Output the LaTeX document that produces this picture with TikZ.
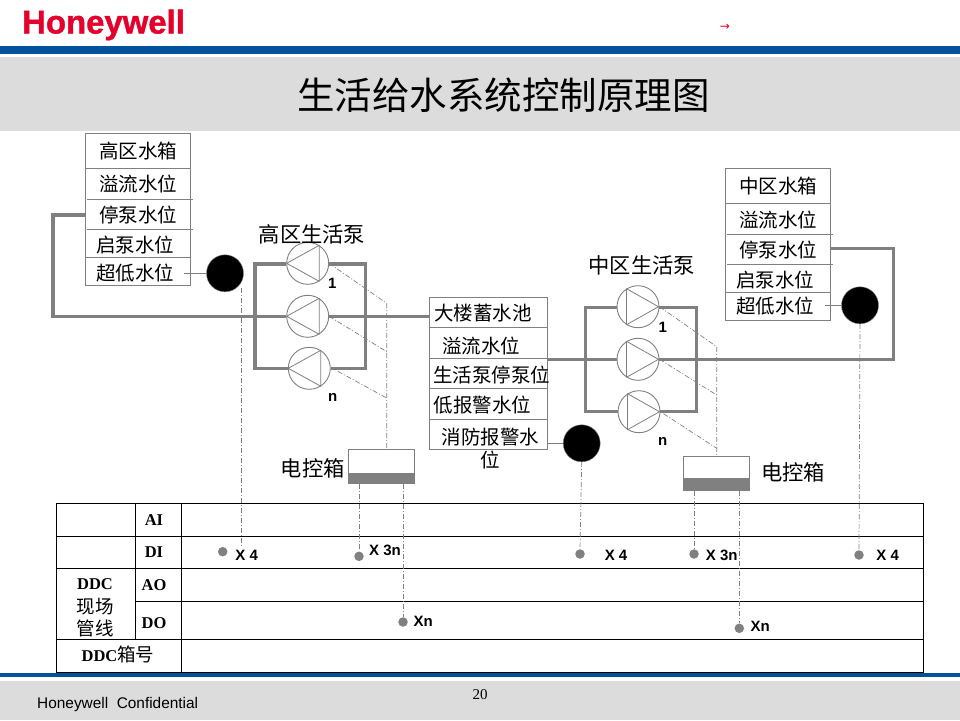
\documentclass[tikz,border=0pt]{standalone}
\usepackage{fontspec}
\setmainfont{Liberation Sans}
\newfontfamily\cjk{Noto Sans CJK SC}
\newfontfamily\serifb[BoldFont={Liberation Serif Bold}]{Liberation Serif}
\newfontfamily\logofont[FakeBold=1.2]{Liberation Sans Bold}
\usetikzlibrary{calc}
\definecolor{hblue}{HTML}{00529B}
\definecolor{hgray}{HTML}{DCDCDC}
\definecolor{hred}{HTML}{E4002B}
\definecolor{linegray}{HTML}{808080}
\newcommand{\fsz}[1]{\fontsize{#1}{#1}\selectfont}
\tikzset{
  lbl/.style={inner sep=0pt,font=\cjk\fsz{19.5}},
  bigl/.style={inner sep=0pt,font=\cjk\fsz{21.3}},
  cell/.style={inner sep=0pt,font=\serifb\bfseries\fsz{16.5}},
  cellc/.style={inner sep=0pt,font=\cjk\fsz{18.5}},
  xlbl/.style={inner sep=0pt,font=\bfseries\fsz{15}},
  tank/.style={draw=linegray,line width=0.9pt,inner sep=0pt,minimum width=#1},
  thin gray/.style={draw=linegray,line width=0.8pt},
  pipe/.style={draw=linegray,line width=3.2pt,line join=miter},
  pump/.style={circle,draw=linegray,line width=0.9pt,fill=white,minimum size=42pt,inner sep=0pt},
  blob/.style={circle,fill=black,draw=linegray,line width=0.4pt,minimum size=37pt,inner sep=0pt},
  pt/.style={circle,fill=linegray,minimum size=9.5pt,inner sep=0pt},
  sig/.style={draw=linegray,line width=0.7pt,dash pattern=on 5pt off 2pt on 1pt off 2pt},
  ebox/.style={draw=linegray,line width=1pt,minimum width=66pt,minimum height=34pt,inner sep=0pt},
  grid/.style={draw=black,line width=1pt},
}
\begin{document}
\begin{tikzpicture}[x=1pt,y=-1pt]
\useasboundingbox (0,0) rectangle (960,720);
% page furniture
\fill[white] (0,0) rectangle (960,720);
\fill[hblue] (0,46) rectangle (960,54);
\fill[hgray] (0,56.7) rectangle (960,130.7);
\fill[hblue] (0,673) rectangle (960,677);
\fill[hgray] (0,681) rectangle (960,720);
\node[inner sep=0pt,anchor=base west,text=hred,font=\logofont\fsz{32.9}] (logo) at (22,33.5) {Honeywell};
\node[inner sep=0pt,text=hred,font={\fontspec{DejaVu Sans}\fsz{12}}] (arrowmark) at (725,27) {→};
\node[inner sep=0pt,font=\cjk\fsz{37.5}] (title) at (503.5,95) {生活给水系统控制原理图};
\node[inner sep=0pt,anchor=base west,font=\fsz{15.4}] (conf) at (37,708) {Honeywell\ \ Confidential};
\node[inner sep=0pt,font={\serifb\fsz{15}}] (pageno) at (480,695) {20};

% tanks
\node[tank=105pt,minimum height=152pt] (tankH) at (137.8,209.4) {};
\foreach \y in {168.3,257.3} \draw[thin gray] (85.3,\y) -- (190.3,\y);
\foreach \y in {199.3,229.3} \draw[thin gray] (87,\y) -- (193,\y);
\node[lbl] (h0) at (138,150.7) {高区水箱};
\node[lbl] (h1) at (138,184) {溢流水位};
\node[lbl] (h2) at (138,215) {停泵水位};
\node[lbl] (h3) at (135,245) {启泵水位};
\node[lbl] (h4) at (135,272.7) {超低水位};

\node[tank=105pt,minimum height=152pt] (tankM) at (777.8,244.3) {};
\foreach \y in {203.3,292.3} \draw[thin gray] (725.3,\y) -- (830.3,\y);
\foreach \y in {234.3,264.3} \draw[thin gray] (727,\y) -- (833,\y);
\node[lbl] (m0) at (778,185.7) {中区水箱};
\node[lbl] (m1) at (778,220) {溢流水位};
\node[lbl] (m2) at (778,250) {停泵水位};
\node[lbl] (m3) at (775,280) {启泵水位};
\node[lbl] (m4) at (775,306) {超低水位};

\node[tank=118pt,minimum height=152pt] (pool) at (488.3,373.3) {};
\foreach \y in {327.3,358.3,388.3,419.3} \draw[thin gray] (429.3,\y) -- (547.3,\y);
\node[lbl] (c0) at (483,313.3) {大楼蓄水池};
\node[lbl] (c1) at (481,345.7) {溢流水位};
\node[lbl] (c2) at (491.7,375) {生活泵停泵位};
\node[lbl] (c3) at (482.7,405) {低报警水位};
\node[lbl] (c4) at (490.7,437.3) {消防报警水};
\node[lbl] (c5) at (490,460) {位};

% pumps
\node[pump] (p1) at (307.7,263.3) {};
\node[pump] (p2) at (307.7,316.3) {};
\node[pump] (p3) at (309.3,368.3) {};
\node[pump] (q1) at (638,306.7) {};
\node[pump] (q2) at (638,359.3) {};
\node[pump] (q3) at (639,411.7) {};
\foreach \p in {p1,p2,p3}
  \draw[thin gray,line join=round] ($(\p)+(-21,0)$) -- ($(\p)+(11.5,-18)$) -- ($(\p)+(11.5,18)$) -- cycle;
\foreach \p in {q1,q2,q3}
  \draw[thin gray,line join=round] ($(\p)+(20.5,0)$) -- ($(\p)+(-11.5,-18)$) -- ($(\p)+(-11.5,18)$) -- cycle;

\node[bigl] (hpl) at (312,234) {高区生活泵};
\node[bigl] (mpl) at (641.7,265) {中区生活泵};
\node[xlbl] (n1a) at (332.3,283.3) {1};
\node[xlbl] (n1b) at (332.7,397) {n};
\node[xlbl] (n2a) at (662.7,327) {1};
\node[xlbl] (n2b) at (662.7,441) {n};

% pipes
\coordinate (lc1) at (53,215);
\coordinate (lc2) at (53,316.3);
\coordinate (hl) at (255,264);
\coordinate (hr) at (365.7,264);
\coordinate (ml) at (585.3,307.7);
\coordinate (mr) at (696.7,307.7);
\coordinate (rc1) at (893.3,248.3);
\coordinate (rc2) at (893.3,359.3);
\draw[pipe] (tankH.west |- lc1) -- (lc1) -- (lc2) -- (p2.west);
\draw[pipe] (p2.east) -- (pool.west |- p2);
\draw[pipe] (p1.west |- hl) -- (hl) -- (hl |- p3) -- (p3.west);
\draw[pipe] (p1.east |- hr) -- (hr) -- (hr |- p3) -- (p3.east);
\draw[pipe] (pool.east |- q2) -- (q2.west);
\draw[pipe] (q2.east) -- (rc2) -- (rc1) -- (tankM.east |- rc1);
\draw[pipe] (q1.west |- ml) -- (ml) -- (ml |- q3) -- (q3.west);
\draw[pipe] (q1.east |- mr) -- (mr) -- (mr |- q3) -- (q3.east);

% level sensors
\node[blob] (bH) at (225,273.3) {};
\node[blob] (bC) at (581.7,443.3) {};
\node[blob] (bM) at (860,305.3) {};
\coordinate (lh) at (184,273.3);
\coordinate (lm) at (825,305.3);
\draw[thin gray] (lh) -- (bH.west);
\draw[thin gray] (pool.east |- bC) -- (bC.west);
\draw[thin gray] (lm) -- (bM.west);

% control boxes
\node[ebox] (eb1) at (381.5,466.9) {};
\node[ebox] (eb2) at (716.5,473.4) {};
\fill[linegray] (eb1.south west) rectangle ($(eb1.south east)+(0,-11.7)$);
\fill[linegray] (eb2.south west) rectangle ($(eb2.south east)+(0,-13)$);
\node[bigl] (el1) at (312.7,468) {电控箱};
\node[bigl] (el2) at (793.3,472.3) {电控箱};

% table
\draw[grid] (56.7,503.3) rectangle (923.3,672.3);
\foreach \y in {536.3,568.3,639.3} \draw[grid] (56.7,\y) -- (923.3,\y);
\draw[grid] (135.7,601.3) -- (923.3,601.3);
\draw[grid] (135.7,503.3) -- (135.7,639.3);
\draw[grid] (181.7,503.3) -- (181.7,672.3);
\node[cell] (ai) at (154,520) {AI};
\node[cell] (di) at (154,551.7) {DI};
\node[cell] (ao) at (154,585) {AO};
\node[cell] (do) at (154,622.7) {DO};
\node[cell] (ddc) at (95,584) {DDC};
\node[cellc] (xc) at (95,606.7) {现场};
\node[cellc] (gx) at (95,628) {管线};
\node[inner sep=0pt] (ddcn) at (118,654) {\serifb\bfseries\fsz{16.5}DDC\cjk\mdseries\fsz{18.5}箱号};

% terminals
\node[pt] (d1) at (222.7,551.7) {};
\node[pt] (d2) at (359,556.3) {};
\node[pt] (d3) at (403,622) {};
\node[pt] (d4) at (580,554) {};
\node[pt] (d5) at (694,554) {};
\node[pt] (d6) at (739.3,628.3) {};
\node[pt] (d7) at (859,555) {};
\node[xlbl] (x1) at (246.7,555) {X 4};
\node[xlbl] (x2) at (385,550) {X 3n};
\node[xlbl] (x3) at (423.3,621.7) {Xn};
\node[xlbl] (x4) at (616,555) {X 4};
\node[xlbl] (x5) at (721.7,555) {X 3n};
\node[xlbl] (x6) at (760.3,626.7) {Xn};
\node[xlbl] (x7) at (887.7,555) {X 4};

% signal lines
\coordinate (j1) at (386.7,303.3);
\coordinate (j2) at (386.7,351.7);
\coordinate (j3) at (386.7,398);
\coordinate (k1) at (716.7,346.7);
\coordinate (k2) at (716.7,395);
\coordinate (k3) at (716.7,448.3);
\coordinate (s0) at (241.5,288);
\coordinate (s1) at (241.5,546.7);
\draw[sig] (s0) -- (s1);
\draw[sig] (p1.east) -- (j1) -- (j1 |- eb1.north);
\draw[sig] (p2.east) -- (j2);
\draw[sig] ($(p3.east)+(7,3)$) -- (j3);
\draw[sig] (q1.east) -- (k1) -- (k1 |- eb2.north);
\draw[sig] (q2.east) -- (k2);
\draw[sig] ($(q3.east)+(3,2)$) -- (k3);
\draw[sig] (d2.north |- eb1.south) -- (d2.north);
\draw[sig] (d3.north |- eb1.south) -- (d3.north);
\draw[sig] (bC.south) -- (d4.north);
\draw[sig] (d5.north |- eb2.south) -- (d5.north);
\draw[sig] (d6.north |- eb2.south) -- (d6.north);
\draw[sig] (bM.south) -- (d7.north);
\end{tikzpicture}
\end{document}
